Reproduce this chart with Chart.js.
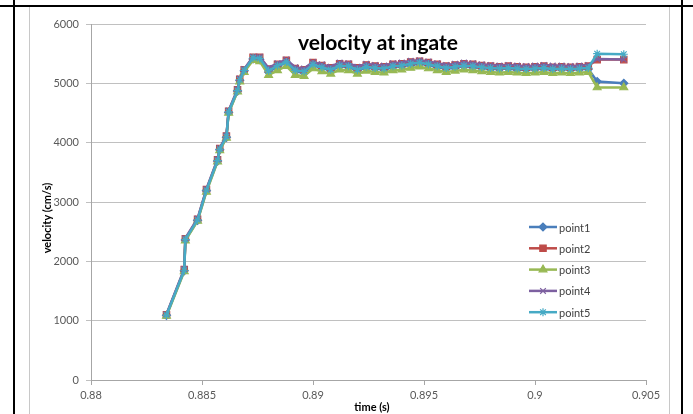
<!DOCTYPE html>
<html>
<head>
<meta charset="utf-8">
<script src="https://cdn.jsdelivr.net/npm/chart.js@4.4.1/dist/chart.umd.min.js"></script>
<style>
  html, body { margin: 0; padding: 0; background: #fff; }
  #wrap { position: relative; width: 693px; height: 414px; overflow: hidden; }
  #chart { position: absolute; left: 0; top: 0; }
  .frame { position: absolute; background: #000; }
  .edge { position: absolute; background: #c8c8c8; }
</style>
</head>
<body>
<div id="wrap">
  <canvas id="chart" width="693" height="414"></canvas>
  <div class="edge" style="left:29px;top:7px;width:1px;height:407px"></div>
  <div class="edge" style="left:669px;top:7px;width:1px;height:407px"></div>
  <div class="frame" style="left:0;top:5px;width:693px;height:2px"></div>
  <div class="frame" style="left:13px;top:0;width:2px;height:414px"></div>
  <div class="frame" style="left:681px;top:0;width:2px;height:414px"></div>
</div>
<script>
// Chart text
const chartTitle = 'velocity at ingate';
const xTitle = 'time (s)';
const yTitle = 'velocity (cm/s)';

// Tick labels
const xTickValues = [0.88, 0.885, 0.89, 0.895, 0.9, 0.905];
const yTickValues = [0, 1000, 2000, 3000, 4000, 5000, 6000];

// Time values (s), shared by all series
const time = [
    0.8834, 0.8842, 0.88425, 0.8848, 0.8852, 0.8857, 0.8858, 0.8861, 0.8862, 0.8866, 0.8867, 0.8869, 0.8873,
    0.8876, 0.8880, 0.8884, 0.8888, 0.8892, 0.8896, 0.8900, 0.8904, 0.8908, 0.8912, 0.8916, 0.8920, 0.8924,
    0.8928, 0.8932, 0.8936, 0.8940, 0.8944, 0.8948, 0.8952, 0.8956, 0.8960, 0.8964, 0.8968, 0.8972, 0.8976,
    0.8980, 0.8984, 0.8988, 0.8992, 0.8996, 0.9000, 0.9004, 0.9008, 0.9012, 0.9016, 0.9020, 0.9024,
    0.9028, 0.9040
];

// Velocity values (cm/s) for each point
const point1 = [
    1090, 1840, 2360, 2690, 3190, 3690, 3880, 4090, 4510, 4870, 5050, 5210, 5410,
    5400, 5190, 5280, 5350, 5200, 5180, 5300, 5260, 5210, 5290, 5270, 5220, 5260,
    5250, 5230, 5270, 5290, 5310, 5330, 5310, 5270, 5250, 5260, 5290, 5270, 5260,
    5240, 5240, 5250, 5230, 5230, 5240, 5240, 5230, 5240, 5230, 5240, 5240,
    5030, 5000
];
const point2 = [
    1100, 1860, 2380, 2710, 3210, 3710, 3900, 4110, 4530, 4890, 5070, 5230, 5440,
    5440, 5240, 5320, 5390, 5250, 5230, 5350, 5300, 5260, 5330, 5320, 5260, 5310,
    5290, 5280, 5320, 5330, 5360, 5370, 5350, 5320, 5290, 5310, 5330, 5320, 5300,
    5290, 5280, 5290, 5280, 5270, 5280, 5290, 5270, 5280, 5270, 5280, 5290,
    5400, 5400
];
const point3 = [
    1080, 1830, 2350, 2680, 3170, 3680, 3870, 4080, 4500, 4860, 5030, 5190, 5390,
    5370, 5140, 5220, 5290, 5140, 5120, 5250, 5200, 5160, 5230, 5220, 5160, 5210,
    5190, 5180, 5220, 5230, 5260, 5280, 5250, 5220, 5190, 5210, 5230, 5220, 5200,
    5190, 5180, 5190, 5180, 5170, 5180, 5190, 5170, 5180, 5170, 5180, 5190,
    4930, 4930
];
const point4 = [
    1110, 1870, 2390, 2720, 3220, 3720, 3910, 4120, 4540, 4900, 5080, 5240, 5450,
    5450, 5260, 5340, 5400, 5270, 5250, 5360, 5320, 5280, 5350, 5340, 5280, 5330,
    5310, 5300, 5340, 5350, 5380, 5390, 5370, 5340, 5310, 5330, 5350, 5340, 5320,
    5310, 5300, 5310, 5300, 5290, 5300, 5310, 5300, 5300, 5290, 5300, 5310,
    5410, 5400
];
const point5 = [
    1095, 1850, 2370, 2700, 3200, 3700, 3890, 4100, 4520, 4880, 5060, 5220, 5430,
    5420, 5210, 5300, 5360, 5220, 5200, 5320, 5270, 5230, 5300, 5290, 5230, 5280,
    5260, 5250, 5290, 5300, 5330, 5350, 5320, 5290, 5260, 5280, 5300, 5290, 5270,
    5260, 5250, 5260, 5250, 5240, 5250, 5260, 5240, 5250, 5240, 5250, 5260,
    5500, 5490
];

const seriesNames = ['point1', 'point2', 'point3', 'point4', 'point5'];
const seriesValues = [point1, point2, point3, point4, point5];
const seriesColors = ['#4a7ebb', '#be4b48', '#98b954', '#7d60a0', '#46aac5'];
const seriesMarkers = ['rectRot', 'rect', 'triangle', 'crossRot', 'star'];
const markerSizes = [4, 4.5, 4.5, 4, 4];

Chart.defaults.font.family = 'Lato, "Open Sans", sans-serif';

// Build datasets; later series drawn on top like in Excel
const datasets = seriesNames.map((name, i) => ({
    label: name,
    data: time.map((t, k) => ({ x: t, y: seriesValues[i][k] })),
    showLine: true,
    borderColor: seriesColors[i],
    backgroundColor: seriesColors[i],
    borderWidth: 2.5,
    pointStyle: seriesMarkers[i],
    pointRadius: markerSizes[i],
    pointBorderWidth: 1.2,
    pointBorderColor: seriesColors[i],
    pointBackgroundColor: seriesColors[i],
    order: seriesNames.length - i,
}));

// Title, axis titles and legend drawn over the plot
const overlayText = {
    id: 'overlayText',
    afterDraw(chart) {
        const ctx = chart.ctx;
        ctx.save();
        ctx.fillStyle = '#000';
        ctx.textAlign = 'center';
        ctx.textBaseline = 'middle';
        ctx.font = 'bold 21px Lato, sans-serif';
        ctx.fillText(chartTitle, 378, 43);
        ctx.font = 'bold 11px Lato, sans-serif';
        ctx.fillText(xTitle, 372, 407);
        ctx.save();
        ctx.translate(47, 218);
        ctx.rotate(-Math.PI / 2);
        ctx.fillText(yTitle, 0, 0);
        ctx.restore();

        // legend
        ctx.textAlign = 'left';
        ctx.font = '11px Lato, sans-serif';
        seriesNames.forEach((name, i) => {
            const y = 227 + i * 21.3;
            ctx.strokeStyle = seriesColors[i];
            ctx.fillStyle = seriesColors[i];
            ctx.lineWidth = 2.5;
            ctx.beginPath();
            ctx.moveTo(529, y);
            ctx.lineTo(557, y);
            ctx.stroke();
            ctx.lineWidth = 1.2;
            Chart.helpers.drawPoint(ctx, {
                pointStyle: seriesMarkers[i],
                radius: markerSizes[i],
                rotation: 0,
                borderWidth: 1.2,
            }, 543, y);
            ctx.fillStyle = '#404040';
            ctx.fillText(name, 559, y + 1);
        });
        ctx.restore();
    }
};

new Chart(document.getElementById('chart'), {
    type: 'scatter',
    data: { datasets: datasets },
    options: {
        responsive: false,
        animation: false,
        layout: { padding: { left: 0, right: 47, top: 24, bottom: 0 } },
        plugins: {
            legend: { display: false },
            tooltip: { enabled: false },
        },
        scales: {
            x: {
                type: 'linear',
                min: 0.88,
                max: 0.905,
                afterBuildTicks: scale => { scale.ticks = xTickValues.map(v => ({ value: v })); },
                afterFit: scale => { scale.height = 34; },
                ticks: {
                    color: '#595959',
                    font: { size: 11 },
                    padding: 4,
                    maxRotation: 0,
                    callback: v => String(+v.toFixed(3)),
                },
                grid: { drawOnChartArea: false, tickLength: 5, color: '#a6a6a6' },
                border: { color: '#a6a6a6' },
            },
            y: {
                min: 0,
                max: 6000,
                afterBuildTicks: scale => { scale.ticks = yTickValues.map(v => ({ value: v })); },
                afterFit: scale => { scale.width = 91; },
                ticks: {
                    color: '#595959',
                    font: { size: 11 },
                    padding: 7,
                    callback: v => String(v),
                },
                grid: { color: '#c0c0c0', tickLength: 5 },
                border: { color: '#a6a6a6' },
            },
        },
    },
    plugins: [overlayText],
});
</script>
</body>
</html>
